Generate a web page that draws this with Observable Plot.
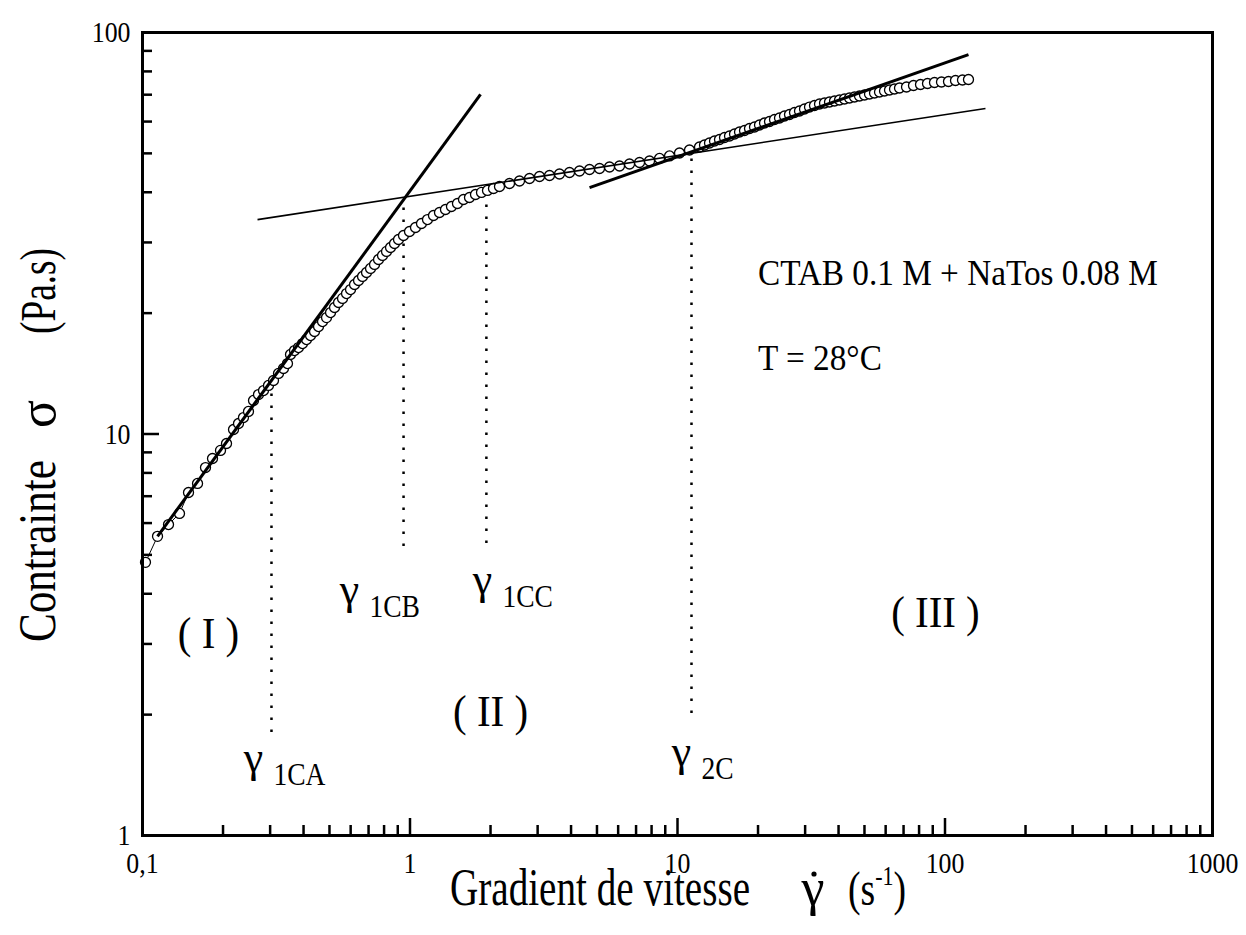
<!DOCTYPE html>
<html><head><meta charset="utf-8">
<script src="https://cdn.jsdelivr.net/npm/d3@7"></script>
<script src="https://cdn.jsdelivr.net/npm/@observablehq/plot@0.6"></script>
<style>
body{margin:0;background:#fff;}
svg text{font-family:"Liberation Serif","Times New Roman",serif;}
</style></head><body><div id="chart"></div>
<script>
// ---- data ----
const shearRate = [
0.1026,0.1138,0.1251,0.1375,0.1486,0.1606,0.1720,0.1827,0.1957,0.2061,0.2189,0.2285,0.2385,0.2490,0.2600,0.2714,0.2834,0.2958,0.3088,0.3224,0.3366,0.3483,
0.3575,0.3700,0.3830,0.3965,0.4104,0.4248,0.4397,0.4551,0.4710,0.4875,0.5046,0.5223,0.5406,0.5595,0.5791,0.5994,0.6204,0.6421,0.6646,0.6879,0.7120,0.7369,0.7627,0.7894,0.8171,0.8457,0.8752,0.9058,
0.9456,0.9957,1.0485,1.1040,1.1626,1.2240,1.2890,1.3572,1.4290,1.5047,1.5849,1.6689,1.7573,1.8505,1.9485,2.0517,2.1604,
2.3547,2.5665,2.7972,3.0487,3.3229,3.6216,3.9472,4.3021,4.6890,5.1106,5.5701,6.0709,6.6167,7.2116,7.8601,8.5667,9.3370,10.174,11.089,12.086,
12.617,13.172,13.752,14.357,14.989,15.648,16.336,17.055,17.805,18.586,19.404,20.257,21.148,22.079,23.050,24.064,25.119,26.225,27.378,28.582,
29.840,31.152,32.522,33.952,35.445,37.004,38.632,40.331,42.104,43.956,45.889,47.907,50.015,52.214,54.510,56.907,59.410,62.023,64.750,67.600,
71.80,76.26,80.99,86.02,91.36,97.03,103.06,109.46,116.25,122.41
];
const stress = [
4.79,5.56,5.95,6.34,7.15,7.53,8.25,8.69,9.10,9.47,10.26,10.62,10.99,11.38,12.12,12.54,12.83,13.21,13.59,14.15,14.56,14.98,
15.78,16.14,16.42,16.80,17.19,17.59,18.00,18.52,19.06,19.50,20.07,20.66,21.26,21.76,22.38,22.90,23.57,24.12,24.68,25.25,25.84,26.44,27.20,27.84,28.49,29.14,29.82,30.51,
31.22,31.94,32.68,33.44,34.21,35.01,35.62,36.24,36.87,37.51,38.38,38.82,39.49,39.96,40.42,40.88,41.35,
42.07,42.67,43.29,43.79,44.04,44.42,44.80,45.19,45.58,45.84,46.24,46.50,47.04,47.45,47.86,48.56,49.26,50.10,50.97,51.86,
52.46,53.06,53.67,54.14,54.76,55.23,55.87,56.51,57.00,57.66,58.16,58.83,59.51,60.02,60.71,61.24,61.94,62.48,63.20,63.75,
64.48,65.22,65.79,66.36,66.74,67.13,67.52,67.90,68.29,68.69,69.08,69.48,69.88,70.28,70.69,71.09,71.50,71.91,72.33,72.74,
73.16,73.79,74.22,74.64,75.08,75.29,75.51,75.94,76.16,76.38
];

// tangent (power-law) lines: start and end points
const tangentNames   = ["regime I", "plateau", "regime III"];
const tangentRate1   = [0.1138, 0.2691, 4.69];
const tangentStress1 = [5.56, 34.2, 41.1];
const tangentRate2   = [1.835, 141.7, 122.4];
const tangentStress2 = [70.1, 64.7, 88.1];

// critical shear rates (dotted verticals)
const critNames  = ["1CA", "1CB", "1CC", "2C"];
const critRate   = [0.3035, 0.946, 1.93, 11.28];
const critTop    = [12.83, 37.5, 38.6, 48.8];
const critBottom = [1.805, 5.245, 5.34, 2.013];
const critLabelRate   = [0.260, 0.594, 1.866, 10.35];
const critLabelStress = [1.564, 4.10, 4.34, 1.619];

// regime labels
const regionNames  = ["( I )", "( II )", "( III )"];
const regionRate   = [0.1765, 2.0, 92.1];
const regionStress = [3.185, 2.036, 3.593];

// sample description
const infoLines  = ["CTAB 0.1 M + NaTos 0.08 M", "T = 28°C"];
const infoRate   = [20.0, 20.0];
const infoStress = [25.0, 15.4];

// axes
const xMajorTicks = [0.1, 1, 10, 100, 1000];
const xTickLabels = ["0,1", "1", "10", "100", "1000"];
const yMajorTicks = [1, 10, 100];
const yTickLabels = ["1", "10", "100"];
const minorMultipliers = [2, 3, 4, 5, 6, 7, 8, 9];

// ---- derived tables ----
const data = shearRate.map((x, i) => ({x, y: stress[i]}));
const tangents = tangentNames.map((n, i) => ({n, x1: tangentRate1[i], y1: tangentStress1[i], x2: tangentRate2[i], y2: tangentStress2[i]}));
const crit = critNames.map((n, i) => ({n, x: critRate[i], top: critTop[i], bottom: critBottom[i], lx: critLabelRate[i], ly: critLabelStress[i]}));
const regions = regionNames.map((n, i) => ({n, x: regionRate[i], y: regionStress[i]}));
const info = infoLines.map((n, i) => ({n, x: infoRate[i], y: infoStress[i]}));
const xMinor = xMajorTicks.slice(0, -1).flatMap(d => minorMultipliers.map(k => d * k));
const yMinor = yMajorTicks.slice(0, -1).flatMap(d => minorMultipliers.map(k => d * k));

const W = 1246, H = 935, mL = 142, mR = 34, mT = 32, mB = 100;
const innerW = W - mL - mR, innerH = H - mT - mB;

const chart = Plot.plot({
  width: W, height: H,
  marginLeft: mL, marginRight: mR, marginTop: mT, marginBottom: mB,
  style: {fontFamily: "Liberation Serif, serif", fontSize: "30px", color: "black", background: "white"},
  x: {type: "log", domain: [0.1, 1000], axis: null},
  y: {type: "log", domain: [1, 100], axis: null},
  marks: [
    Plot.tickX(xMinor, {x: d => d, insetTop: innerH - 10, strokeWidth: 2.5}),
    Plot.tickX(xMajorTicks, {x: d => d, insetTop: innerH - 17, strokeWidth: 2.5}),
    Plot.tickY(yMinor, {y: d => d, insetRight: innerW - 10, strokeWidth: 2.5}),
    Plot.tickY(yMajorTicks, {y: d => d, insetRight: innerW - 17, strokeWidth: 2.5}),
    Plot.axisX({ticks: xMajorTicks, tickFormat: d => xTickLabels[xMajorTicks.indexOf(d)], tickSize: 0, tickPadding: 16, fontSize: 30, label: null}),
    Plot.axisY({ticks: yMajorTicks, tickFormat: d => yTickLabels[yMajorTicks.indexOf(d)], tickSize: 0, tickPadding: 12, fontSize: 30, label: null}),
    Plot.ruleX(crit, {x: "x", y1: "bottom", y2: "top", stroke: "black", strokeWidth: 2.5, strokeDasharray: "2.5 9.5"}),
    Plot.line(data, {x: "x", y: "y", stroke: "black", strokeWidth: 1}),
    Plot.dot(data, {x: "x", y: "y", r: 5, fill: "white", stroke: "black", strokeWidth: 1.3}),
    Plot.link(tangents.filter(d => d.n !== "plateau"), {x1: "x1", y1: "y1", x2: "x2", y2: "y2", stroke: "black", strokeWidth: 3}),
    Plot.link(tangents.filter(d => d.n === "plateau"), {x1: "x1", y1: "y1", x2: "x2", y2: "y2", stroke: "black", strokeWidth: 1.6}),
    Plot.text(crit, {x: "lx", y: "ly", text: () => "γ", fontSize: 44, textAnchor: "middle", ariaLabel: () => "gamma"}),
    Plot.text(crit, {x: "lx", y: "ly", text: "n", fontSize: 32, textAnchor: "start", dx: 20, dy: 17, ariaLabel: () => "subscript"}),
    Plot.text(regions, {x: "x", y: "y", text: "n", fontSize: 44, textAnchor: "middle", ariaLabel: () => "regions"}),
    Plot.text(info, {x: "x", y: "y", text: "n", fontSize: 35, textAnchor: "start", ariaLabel: () => "info"}),
    Plot.frame({stroke: "black", strokeWidth: 3})
  ]
});

document.getElementById("chart").appendChild(chart);
const svg = d3.select(chart);

function condense(sel, f) {
  sel.each(function() {
    const L = this.getComputedTextLength();
    d3.select(this).attr("textLength", L * f).attr("lengthAdjust", "spacingAndGlyphs");
  });
}
const tickLabels = svg.selectAll('g[aria-label="x-axis tick label"], g[aria-label="y-axis tick label"]');
tickLabels.attr("font-size", 30);
tickLabels.selectAll("text").attr("font-size", 30);
condense(tickLabels.selectAll("text"), 0.86);
condense(svg.selectAll('text[aria-label="subscript"]'), 0.86);
condense(svg.selectAll('text[aria-label="info"]'), 0.95);
condense(svg.selectAll('text[aria-label="regions"]'), 0.93);

const t = svg.append("g").attr("fill", "black").attr("font-family", "Liberation Serif, serif").attr("text-anchor", "start");
t.append("text").attr("x", 450).attr("y", 905).attr("font-size", 52)
  .attr("textLength", 300).attr("lengthAdjust", "spacingAndGlyphs").text("Gradient de vitesse");
t.append("text").attr("x", 813).attr("y", 905).attr("font-size", 52).attr("text-anchor", "middle").text("γ");
t.append("circle").attr("cx", 814).attr("cy", 874).attr("r", 2.6).attr("fill", "black");
const su = t.append("text").attr("x", 848).attr("y", 905).attr("font-size", 48)
  .attr("textLength", 58).attr("lengthAdjust", "spacingAndGlyphs");
su.append("tspan").text("(s");
su.append("tspan").attr("font-size", 28).attr("dy", -20).text("-1");
su.append("tspan").attr("dy", 20).text(")");

t.append("text").attr("transform", "translate(55,642) rotate(-90)").attr("font-size", 52)
  .attr("textLength", 182).attr("lengthAdjust", "spacingAndGlyphs").text("Contrainte");
t.append("text").attr("transform", "translate(55,414) rotate(-90)").attr("font-size", 52).attr("text-anchor", "middle").text("σ");
t.append("text").attr("transform", "translate(55,334) rotate(-90)").attr("font-size", 50)
  .attr("textLength", 86).attr("lengthAdjust", "spacingAndGlyphs").text("(Pa.s)");
</script></body></html>
